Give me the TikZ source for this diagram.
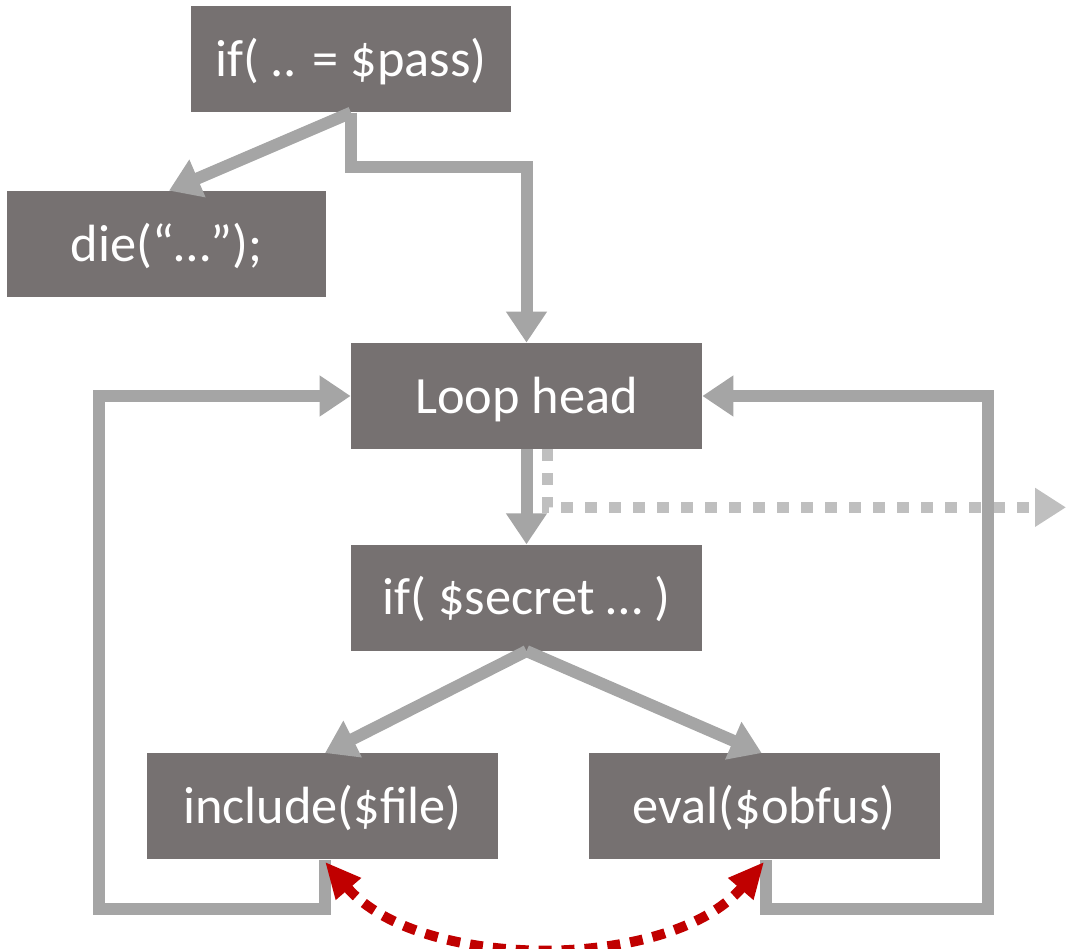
\documentclass[tikz,border=0pt]{standalone}
\usepackage{fontspec}
\setmainfont{Carlito}
\usepackage{tikz}
\usetikzlibrary{positioning,arrows.meta}
\definecolor{boxgray}{HTML}{767171}
\definecolor{arrowgray}{HTML}{A5A5A5}
\definecolor{dotgray}{HTML}{BFBFBF}
\definecolor{darkred}{HTML}{C00000}
\tikzset{
  codebox/.style={rectangle, fill=boxgray, text=white, minimum width=7.02cm, minimum height=2.12cm, inner sep=2pt, text height=0.9cm, text depth=0.22cm, font=\fontsize{29.8pt}{36pt}\selectfont},
  fwd/.style={-{Triangle[width=0.78cm,length=0.62cm]}, line width=0.24cm, draw=arrowgray},
  leave/.style={-{Triangle[width=0.74cm,length=0.62cm]}, line width=0.22cm, draw=dotgray, dash pattern=on 0.24cm off 0.24cm},
  swap/.style={{Triangle[width=0.62cm,length=0.72cm]}-{Triangle[width=0.62cm,length=0.72cm]}, line width=0.2cm, draw=darkred, dash pattern=on 0.26cm off 0.2cm},
}

\begin{document}
\begin{tikzpicture}
\useasboundingbox (0,0) rectangle (21.36,-18.96);
%Nodes
\node[codebox] (loop) at (10.53,-7.92) {Loop head};
\node[codebox] (secret) [below=1.9cm of loop] {if( \$secret … )};
\node[codebox] (include) [below=2.04cm of secret, xshift=-4.08cm] {include(\$file)};
\node[codebox] (eval) [right=1.8cm of include] {eval(\$obfus)};
\node[codebox, minimum width=6.4cm] (pass) [above=4.6cm of loop, xshift=-3.51cm] {if( .. = \$pass)};
\node[codebox, minimum width=6.38cm] (die) [below=1.56cm of pass, xshift=-3.69cm] {die(“…”);};
\coordinate[below right=1.16cm and 10.79cm of loop.south] (exit);

%Lines
\draw[leave] ([xshift=0.41cm]loop.south) |- (exit);
\draw[fwd] (pass.south) -- ([xshift=0.05cm]die.north);
\draw[fwd] (pass.south) -- ++(0,-1.08) -| (loop.north);
\draw[fwd] (loop.south) -- (secret.north);
\draw[fwd] (secret.south) -- ([xshift=0.05cm]include.north);
\draw[fwd] (secret.south) -- ([xshift=-0.05cm]eval.north);
\draw[fwd] ([xshift=0.05cm]include.south) |- ++(-4.52,-0.98) |- (loop.west);
\draw[fwd] ([xshift=0.03cm]eval.south) |- ++(4.45,-0.98) |- (loop.east);
\draw[swap] ([xshift=0.05cm,yshift=-0.04cm]include.south) .. controls +(1.9,-2.2) and +(-1.9,-2.2) .. ([yshift=-0.04cm]eval.south);
\end{tikzpicture}
\end{document}
